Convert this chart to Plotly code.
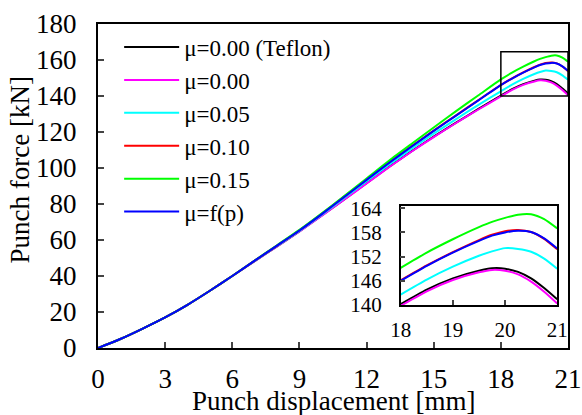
import plotly.graph_objects as go

disp = [0, 1, 2, 3, 4, 5, 6, 7, 8, 9, 10, 11, 12, 13, 14, 15, 16, 17, 18,
        18.5, 19, 19.5, 19.75, 20, 20.25, 20.5, 20.75, 21]

teflon = [0, 5, 10.8, 17, 24, 31.8, 40, 48.3, 56.5, 64.8, 73.6, 82.6, 91.6, 100.6, 109.2, 117.4, 125.2, 132.8, 140.2,
          143.8, 146.6, 148.5, 149.1, 149.0, 148.2, 146.6, 144.2, 141.4]
mu000 = [0, 5, 10.8, 17, 24, 31.8, 40, 48.3, 56.5, 64.7, 73.5, 82.4, 91.4, 100.4, 109.0, 117.2, 125.0, 132.5, 139.8,
         143.4, 146.2, 148.1, 148.7, 148.5, 147.6, 145.8, 143.3, 140.4]
mu005 = [0, 5, 10.8, 17, 24, 31.8, 40, 48.4, 56.7, 65.0, 74.0, 83.3, 92.6, 101.8, 110.6, 119.1, 127.2, 135.1, 142.6,
         146.3, 149.5, 152.2, 153.3, 154.1, 153.9, 153.2, 151.5, 149.0]
mu010 = [0, 5, 10.8, 17, 24, 31.8, 40, 48.5, 56.9, 65.4, 74.6, 84.1, 93.6, 103.0, 112.0, 120.8, 129.3, 137.8, 146.1,
         149.8, 153.1, 156.1, 157.4, 158.3, 158.6, 158.1, 156.4, 153.8]
mu015 = [0, 5, 10.8, 17, 24, 31.8, 40, 48.6, 57.1, 65.6, 74.8, 84.4, 94.2, 104.0, 113.3, 122.5, 131.6, 140.4, 149.2,
         153.0, 156.3, 159.3, 160.6, 161.6, 162.4, 162.5, 161.3, 159.0]
mufp = [0, 5, 10.8, 17, 24, 31.8, 40, 48.5, 56.9, 65.3, 74.4, 83.9, 93.4, 102.8, 111.8, 120.6, 129.1, 137.6, 146.0,
        149.7, 153.0, 155.9, 157.2, 158.0, 158.4, 158.1, 156.5, 154.0]

names = ["μ=0.00 (Teflon)", "μ=0.00", "μ=0.05", "μ=0.10", "μ=0.15", "μ=f(p)"]
colors = ["#000000", "#ff00ff", "#00ffff", "#ff0000", "#00ff00", "#0000ff"]
series = [teflon, mu000, mu005, mu010, mu015, mufp]

x_ticks = [0, 3, 6, 9, 12, 15, 18, 21]
y_ticks = [0, 20, 40, 60, 80, 100, 120, 140, 160, 180]
inset_x_ticks = [18, 19, 20, 21]
inset_y_ticks = [140, 146, 152, 158, 164]
inset_x_range = [18, 21]
inset_y_range = [140, 164.6]

FONT = "'Liberation Serif', 'Times New Roman', Tinos, 'DejaVu Serif', serif"

fig = go.Figure()
for n, c, s in zip(names, colors, series):
    fig.add_trace(go.Scatter(x=disp, y=s, name=n, mode="lines",
                             line=dict(color=c, width=2, shape="spline", smoothing=0.6),
                             xaxis="x", yaxis="y"))
for n, c, s in zip(names, colors, series):
    xi = [d for d in disp if d >= 18]
    yi = [v for d, v in zip(disp, s) if d >= 18]
    fig.add_trace(go.Scatter(x=xi, y=yi, name=n, mode="lines", showlegend=False,
                             line=dict(color=c, width=2, shape="spline", smoothing=0.6),
                             xaxis="x2", yaxis="y2"))

fig.add_shape(type="rect", xref="x", yref="y", x0=inset_x_range[0], x1=inset_x_range[1],
              y0=inset_y_range[0], y1=inset_y_range[1], line=dict(color="black", width=1.5))

fig.add_annotation(text="Punch displacement [mm]", xref="paper", yref="paper",
                   x=0.5, y=-0.164, xanchor="center", yanchor="middle", showarrow=False,
                   font=dict(family=FONT, size=27))
fig.add_annotation(text="Punch force [kN]", xref="paper", yref="paper",
                   x=-0.166, y=0.551, xanchor="center", yanchor="middle", showarrow=False,
                   textangle=-90, font=dict(family=FONT, size=27))

fig.update_layout(
    width=582, height=415,
    margin=dict(l=98, r=14, t=24, b=67, autoexpand=False),
    paper_bgcolor="white", plot_bgcolor="white",
    font=dict(family=FONT, size=24, color="black"),
    showlegend=True,
    legend=dict(x=0.045, y=0.995, xanchor="left", yanchor="top",
                bgcolor="rgba(0,0,0,0)", font=dict(family=FONT, size=23),
                tracegroupgap=0, itemwidth=55),
    xaxis=dict(domain=[0, 1], range=[0, 21], tickvals=x_ticks, ticks="inside", ticklen=6,
               tickwidth=1.5, showline=True, linewidth=2, linecolor="black", mirror=True,
               showgrid=False, zeroline=False, ticklabelstandoff=6, automargin=False,
               tickfont=dict(family=FONT, size=27)),
    yaxis=dict(domain=[0, 1], range=[0, 180], tickvals=y_ticks, ticks="inside", ticklen=6,
               tickwidth=1.5, showline=True, linewidth=2, linecolor="black", mirror=True,
               showgrid=False, zeroline=False, ticklabelstandoff=14, automargin=False,
               tickfont=dict(family=FONT, size=27)),
    xaxis2=dict(domain=[0.644, 0.977], anchor="y2", range=inset_x_range, tickvals=inset_x_ticks,
                ticks="inside", ticklen=5, tickwidth=1.5, showline=True, linewidth=1.5,
                linecolor="black", mirror=True, showgrid=False, zeroline=False, automargin=False,
                ticklabelstandoff=5, tickfont=dict(family=FONT, size=21)),
    yaxis2=dict(domain=[0.1327, 0.439], anchor="x2", range=inset_y_range, tickvals=inset_y_ticks,
                ticks="inside", ticklen=5, tickwidth=1.5, showline=True, linewidth=1.5,
                linecolor="black", mirror=True, showgrid=False, zeroline=False, automargin=False,
                ticklabelstandoff=13, tickfont=dict(family=FONT, size=21)),
)

fig.write_html("out.html")
